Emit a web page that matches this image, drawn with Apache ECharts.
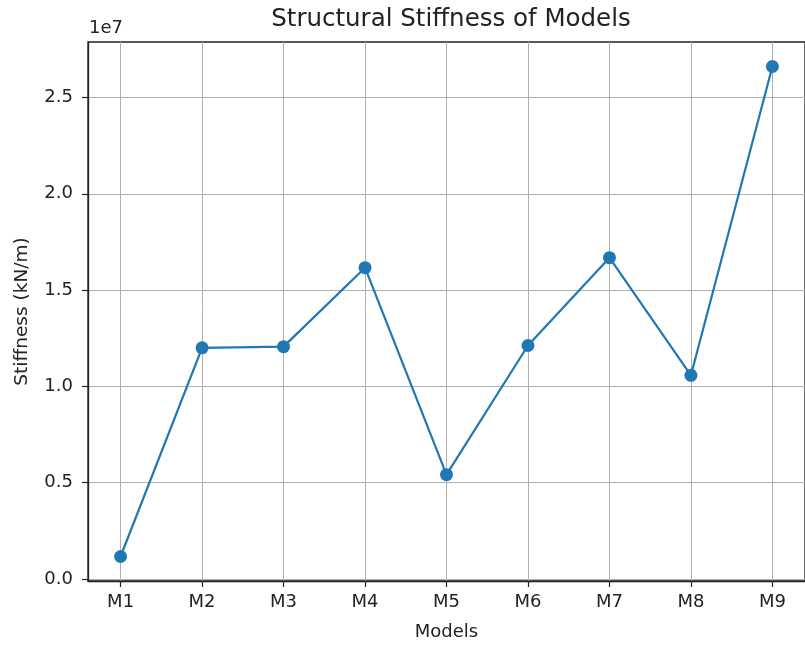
<!DOCTYPE html>
<html>
<head>
<meta charset="utf-8">
<script src="https://cdn.jsdelivr.net/npm/echarts@6/dist/echarts.min.js"></script>
<style>
html,body{margin:0;padding:0;background:#fff;}
#chart{width:805px;height:646px;}
</style>
</head>
<body>
<div id="chart"></div>
<script>
const categories = ['M1','M2','M3','M4','M5','M6','M7','M8','M9'];
const stiffness = [1160000, 12000000, 12060000, 16160000, 5410000, 12120000, 16680000, 10570000, 26610000];
const yTickValues = [0, 5000000, 10000000, 15000000, 20000000, 25000000];
const yExponentLabel = '1e7';
const chartTitle = 'Structural Stiffness of Models';

const xIdx = categories.map((c, i) => i);
const dMin = Math.min(...stiffness), dMax = Math.max(...stiffness);
const pad = 0.05 * (dMax - dMin);
const xPad = 0.05 * (categories.length - 1);

const GRID = {left: 88, top: 42, right: -9, bottom: 63};
const plotCenterX = GRID.left + (805 - GRID.left - GRID.right) / 2;

const chart = echarts.init(document.getElementById('chart'), null, {renderer: 'canvas'});
const FONT = 'DejaVu Sans';
const TXT = '#222';
chart.setOption({
  animation: false,
  backgroundColor: '#ffffff',
  graphic: [{
    type: 'text', x: plotCenterX, y: 7,
    style: {text: chartTitle, font: '24.5px "DejaVu Sans"', fill: TXT, textAlign: 'center', textVerticalAlign: 'top'}
  }, {
    type: 'text', left: 89, top: 19,
    style: {text: yExponentLabel, font: '18px "DejaVu Sans"', fill: TXT}
  }],
  grid: Object.assign({show: true, borderColor: '#222', borderWidth: 1.3, containLabel: false}, GRID),
  xAxis: {
    type: 'value',
    min: -xPad, max: categories.length - 1 + xPad,
    minInterval: 1, maxInterval: 1,
    name: 'Models', nameLocation: 'middle', nameGap: 42,
    nameTextStyle: {fontFamily: FONT, fontSize: 18, color: TXT},
    axisLine: {show: true, onZero: false, lineStyle: {color: '#222', width: 1.3}},
    axisTick: {show: true, length: 6, customValues: xIdx, lineStyle: {color: '#222', width: 1.2}},
    axisLabel: {
      customValues: xIdx, margin: 12, fontFamily: FONT, fontSize: 18, color: TXT,
      formatter: v => categories[Math.round(v)] || ''
    },
    splitLine: {show: true, lineStyle: {color: '#b0b0b0', width: 1}}
  },
  yAxis: {
    type: 'value',
    min: dMin - pad, max: dMax + pad,
    minInterval: 5000000, maxInterval: 5000000,
    name: 'Stiffness (kN/m)', nameLocation: 'middle', nameGap: 56,
    nameTextStyle: {fontFamily: FONT, fontSize: 18.5, color: TXT},
    axisLine: {show: true, onZero: false, lineStyle: {color: '#222', width: 1.3}},
    axisTick: {show: true, length: 6, customValues: yTickValues, lineStyle: {color: '#222', width: 1.2}},
    axisLabel: {
      customValues: yTickValues, margin: 15, fontFamily: FONT, fontSize: 18, color: TXT,
      formatter: v => (v / 1e7).toFixed(1)
    },
    splitLine: {show: true, lineStyle: {color: '#b0b0b0', width: 1}}
  },
  series: [{
    type: 'line',
    data: stiffness.map((v, i) => [xIdx[i], v]),
    symbol: 'circle',
    symbolSize: 13,
    lineStyle: {color: '#1f77b4', width: 2.2},
    itemStyle: {color: '#1f77b4'},
    z: 3
  }]
});
</script>
</body>
</html>
